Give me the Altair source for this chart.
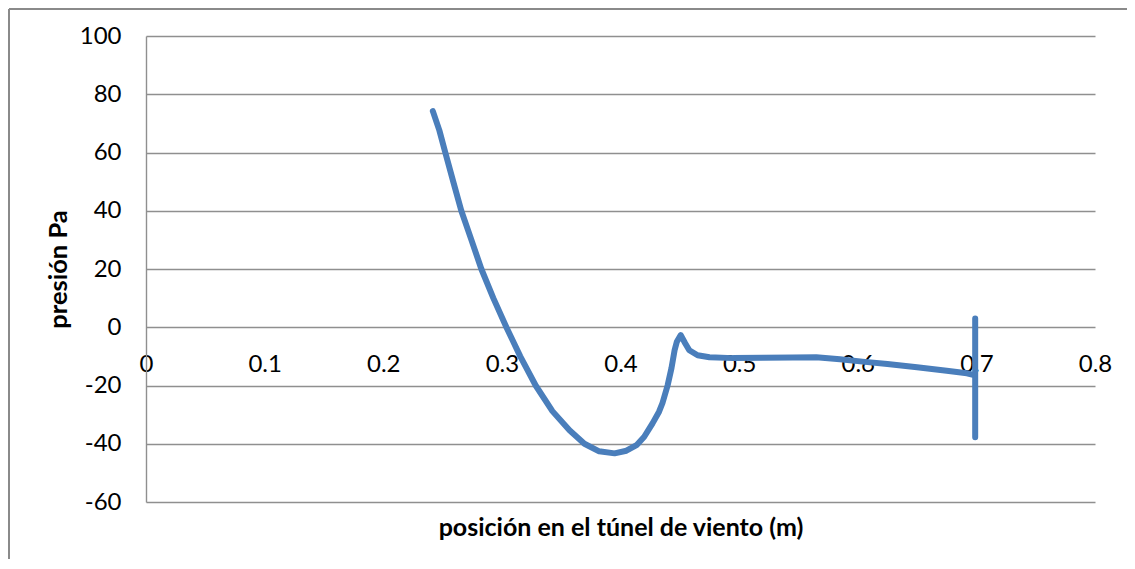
import altair as alt
import pandas as pd

# Curve: position (m) vs pressure (Pa)
pos = [0.2418, 0.2473, 0.2523, 0.2590, 0.2658, 0.2743, 0.2827, 0.2928, 0.3038,
       0.3155, 0.3285, 0.3426, 0.3570, 0.3696, 0.3820, 0.3950, 0.4050, 0.4135,
       0.4200, 0.4270, 0.4325, 0.4354, 0.4397, 0.4430, 0.4456, 0.4475, 0.4508,
       0.4545, 0.4580, 0.4650, 0.4750, 0.4950, 0.5200, 0.5450, 0.5650, 0.5850,
       0.6040, 0.6250, 0.6500, 0.6750, 0.6920, 0.6990, 0.6990, 0.6990]
pres = [74.2, 67.6, 60.0, 50.0, 40.0, 30.0, 20.0, 10.0, 0.0,
        -10.0, -20.0, -28.8, -35.4, -40.0, -42.6, -43.3, -42.4, -40.5,
        -37.6, -33.0, -29.0, -26.0, -20.0, -14.0, -7.9, -5.0, -2.7,
        -5.5, -7.9, -9.6, -10.3, -10.6, -10.5, -10.4, -10.3, -11.0,
        -11.8, -12.6, -13.7, -14.9, -15.8, -16.5, 3.0, -37.8]
x_ticks = [0, 0.1, 0.2, 0.3, 0.4, 0.5, 0.6, 0.7, 0.8]
y_ticks = [-60, -40, -20, 0, 20, 40, 60, 80, 100]

df = pd.DataFrame({"pos": pos, "pres": pres, "idx": list(range(len(pos)))})

FONT = "Lato"
GRID = "#8f8f8f"
W, H = 949, 466

line = alt.Chart(df).mark_line(
    color="#4a7ebb", strokeWidth=6, strokeCap="round", strokeJoin="round"
).encode(
    x=alt.X("pos:Q",
            scale=alt.Scale(domain=[0, 0.8], nice=False, zero=False),
            axis=alt.Axis(values=x_ticks, format="~g", offset=-174.75,
                          domain=False, ticks=False, tickSize=0, grid=False,
                          labelPadding=25, labelFlush=False, labelOverlap=False,
                          labelFont=FONT, labelFontSize=24, labelColor="#000000",
                          title="posición en el túnel de viento (m)",
                          titleFont=FONT, titleFontSize=25, titleFontWeight="bold",
                          titleColor="#000000", titleY=208,
                          titleBaseline="alphabetic")),
    y=alt.Y("pres:Q",
            scale=alt.Scale(domain=[-60, 100], nice=False, zero=False),
            axis=alt.Axis(values=y_ticks, grid=True, gridColor=GRID, gridWidth=1.4,
                          domain=True, domainColor=GRID, domainWidth=1.4,
                          ticks=False, tickSize=0, labelPadding=25,
                          labelExpr="replace(datum.label, '\u2212', '-')",
                          labelFont=FONT, labelFontSize=24, labelColor="#000000",
                          title="presión Pa", titleFont=FONT, titleFontSize=25.5,
                          titleFontWeight="bold", titleColor="#000000",
                          titleAngle=270, titleX=-80, titleY=233,
                          titleBaseline="alphabetic")),
    order="idx:Q",
)

frame_df = pd.DataFrame({"k": [0]})
frame_left = alt.Chart(frame_df).mark_rule(color="#8a8a8a", strokeWidth=2).encode(
    x=alt.value(-137), y=alt.value(-27), y2=alt.value(700))
frame_top = alt.Chart(frame_df).mark_rule(color="#8a8a8a", strokeWidth=2).encode(
    x=alt.value(-137), x2=alt.value(1300), y=alt.value(-27))

chart = alt.layer(frame_left, frame_top, line).properties(
    width=W, height=H,
    autosize=alt.AutoSizeParams(type="none"),
    padding={"left": 138, "top": 28, "right": 32, "bottom": 57},
    background="white",
).configure_view(stroke=None)

chart.save("out.html", embed_options={"renderer": "svg", "actions": False})
